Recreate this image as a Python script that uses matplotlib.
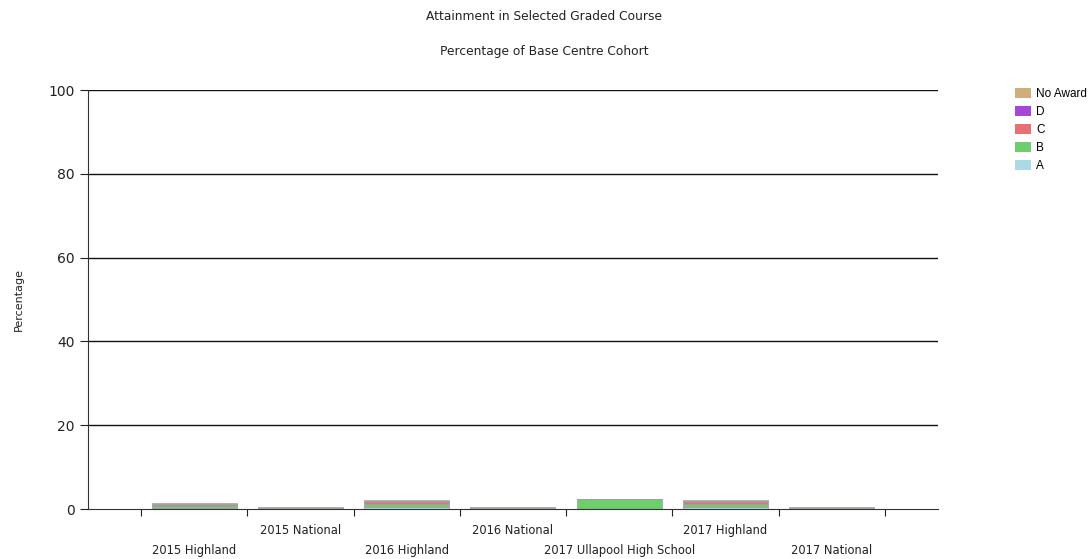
import matplotlib
matplotlib.use("Agg")
import matplotlib.pyplot as plt
from matplotlib.patches import Patch
import numpy as np

categories = ["2015 Highland", "2015 National", "2016 Highland", "2016 National",
              "2017 Ullapool High School", "2017 Highland", "2017 National"]
grade_a = [0.3, 0.1, 0.6, 0.1, 0.0, 0.6, 0.1]
grade_b = [0.5, 0.1, 0.5, 0.1, 2.4, 0.5, 0.1]
grade_c = [0.2, 0.05, 0.6, 0.05, 0.0, 0.6, 0.05]
grade_d = [0.1, 0.05, 0.1, 0.05, 0.0, 0.1, 0.05]
no_award = [0.4, 0.1, 0.4, 0.1, 0.0, 0.4, 0.1]

series = [("A", grade_a, "#add8e6"), ("B", grade_b, "#6ccf6c"),
          ("C", grade_c, "#ea6f74"), ("D", grade_d, "#a646d6"),
          ("No Award", no_award, "#cfae7c")]

fig = plt.figure(figsize=(10.89, 5.59), dpi=100)
ax = fig.add_axes([0.0808, 0.0894, 0.7805, 0.7495])

x = np.arange(1, len(categories) + 1)
bottom = np.zeros(len(categories))
for name, vals, col in series:
    vals = np.array(vals)
    ax.bar(x, vals, width=0.8, bottom=bottom, color=col, edgecolor="#a0a0a0", linewidth=0.5)
    bottom += vals

ax.set_xlim(0, 8)
ax.set_ylim(0, 100)
ax.set_yticks([0, 20, 40, 60, 80, 100])
ax.tick_params(axis="y", labelsize=10, colors="#222222", length=6, width=0.8)
for y in [20, 40, 60, 80, 100]:
    ax.axhline(y, color="#111111", linewidth=1.0, zorder=0)

ax.set_xticks(np.arange(0.5, 8.0, 1.0))
ax.set_xticklabels([])
ax.tick_params(axis="x", length=5, width=0.8, colors="#222222")
for i, (xi, lab) in enumerate(zip(x, categories)):
    yoff = -0.083 if i % 2 == 0 else -0.035
    ax.text(xi, yoff, lab, transform=ax.get_xaxis_transform(), ha="center", va="top",
            fontsize=8.3, color="#222222")

for s in ["top", "right"]:
    ax.spines[s].set_visible(False)
ax.spines["left"].set_color("#333333")
ax.spines["bottom"].set_color("#333333")

ax.set_ylabel("Percentage", fontsize=8, color="#222222", labelpad=18)

fig.text(0.5, 0.97, "Attainment in Selected Graded Course", ha="center", va="center",
         fontsize=8.8, color="#222222")
fig.text(0.5, 0.907, "Percentage of Base Centre Cohort", ha="center", va="center",
         fontsize=8.8, color="#222222")

handles = [Patch(facecolor=col, edgecolor="none", label=name) for name, _, col in reversed(series)]
fig.legend(handles=handles, loc="upper left", bbox_to_anchor=(0.932, 0.842), frameon=False,
           prop={"family": "Liberation Sans", "size": 8.5}, handlelength=1.4,
           handleheight=0.9, handletextpad=0.4, labelspacing=0.5, borderaxespad=0,
           borderpad=0)

fig.savefig("out.png", dpi=100)
